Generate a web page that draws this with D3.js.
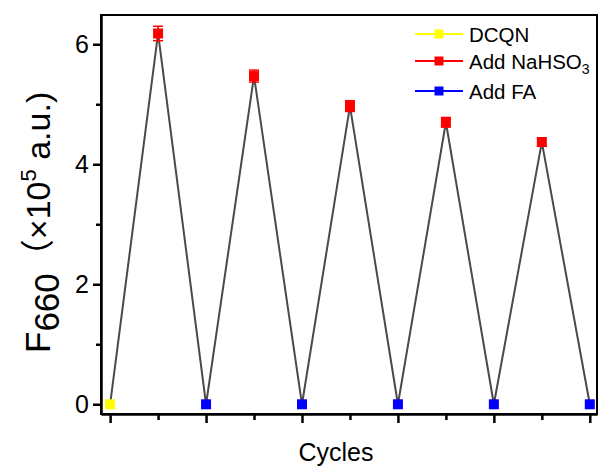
<!DOCTYPE html>
<html><head><meta charset="utf-8">
<script src="https://cdn.jsdelivr.net/npm/d3@7"></script>
<style>
html,body{margin:0;padding:0;background:#fff;}
svg{display:block;font-family:"Liberation Sans",Arial,sans-serif;}
</style></head>
<body>
<svg id="chart" width="599" height="468"></svg>
<script>
// ---- data ----
const cycleIndex = [0,1,2,3,4,5,6,7,8,9,10];
const f660 = [0, 6.18, 0, 5.47, 0, 4.97, 0, 4.70, 0, 4.37, 0];
const f660Err = [0, 0.12, 0, 0.10, 0, 0.09, 0, 0.08, 0, 0.07, 0];
const pointState = ["DCQN","Add NaHSO3","Add FA","Add NaHSO3","Add FA","Add NaHSO3","Add FA","Add NaHSO3","Add FA","Add NaHSO3","Add FA"];
const legendLabels = ["DCQN","Add NaHSO3","Add FA"];
const legendColors = ["#ffff00","#ff0000","#0000ff"];
const yMajorTicks = [0,2,4,6];
const yMinorTicks = [1,3,5];
const xMajorTicks = [0,2,4,6,8,10];
const xMinorTicks = [1,3,5,7,9];

(function(){
const svg = d3.select("#chart");
const pL = 101, pR = 597, pT = 15, pB = 414;
const x = d3.scaleLinear().domain([-0.19, 10.15]).range([pL, pR]);
const y = d3.scaleLinear().domain([-0.162, 6.488]).range([pB, pT]);
const color = d3.scaleOrdinal().domain(legendLabels).range(legendColors);

// frame
svg.append("rect").attr("x", pL).attr("y", pT).attr("width", pR-pL).attr("height", pB-pT)
  .attr("fill","none").attr("stroke","#000").attr("stroke-width",2);

// y axis
const yAxis = svg.append("g").attr("transform",`translate(${pL},0)`)
  .call(d3.axisLeft(y).tickValues(yMajorTicks).tickSize(8).tickSizeOuter(0).tickFormat(d3.format("d")));
yAxis.select(".domain").attr("stroke-width",2.5);
yAxis.selectAll(".tick line").attr("stroke-width",2.5);
yAxis.selectAll(".tick text").attr("font-size",25).attr("font-family","Liberation Sans, Arial, sans-serif").attr("fill","#000").attr("x",-12);
const yMinor = svg.append("g").attr("transform",`translate(${pL},0)`)
  .call(d3.axisLeft(y).tickValues(yMinorTicks).tickSize(5).tickSizeOuter(0).tickFormat(""));
yMinor.select(".domain").remove();
yMinor.selectAll(".tick line").attr("stroke-width",2.5);

// x axis
const xAxis = svg.append("g").attr("transform",`translate(0,${pB})`)
  .call(d3.axisBottom(x).tickValues(xMajorTicks).tickSize(9).tickSizeOuter(0).tickFormat(""));
xAxis.select(".domain").attr("stroke-width",2.5);
xAxis.selectAll(".tick line").attr("stroke-width",2.5);
const xMinor = svg.append("g").attr("transform",`translate(0,${pB})`)
  .call(d3.axisBottom(x).tickValues(xMinorTicks).tickSize(6).tickSizeOuter(0).tickFormat(""));
xMinor.select(".domain").remove();
xMinor.selectAll(".tick line").attr("stroke-width",2.5);

// line
const pts = cycleIndex.map((c,i)=>({c, v:f660[i], e:f660Err[i], s:pointState[i]}));
svg.append("path").datum(pts)
  .attr("d", d3.line().x(d=>x(d.c)).y(d=>y(d.v)))
  .attr("fill","none").attr("stroke","#4a4a4a").attr("stroke-width",2);

// error bars
const eb = svg.append("g").selectAll("g").data(pts.filter(d=>d.e>0)).join("g")
  .attr("stroke", d=>color(d.s)).attr("stroke-width",1.5);
eb.append("line").attr("x1",d=>x(d.c)).attr("x2",d=>x(d.c)).attr("y1",d=>y(d.v+d.e)).attr("y2",d=>y(d.v-d.e));
eb.append("line").attr("x1",d=>x(d.c)-5).attr("x2",d=>x(d.c)+5).attr("y1",d=>y(d.v+d.e)).attr("y2",d=>y(d.v+d.e));
eb.append("line").attr("x1",d=>x(d.c)-5).attr("x2",d=>x(d.c)+5).attr("y1",d=>y(d.v-d.e)).attr("y2",d=>y(d.v-d.e));

// markers
const ms = 10;
svg.append("g").selectAll("rect").data(pts).join("rect")
  .attr("x", d=>x(d.c)-ms/2).attr("y", d=>y(d.v)-ms/2).attr("width",ms).attr("height",ms)
  .attr("fill", d=>color(d.s));

// legend
const lg = svg.append("g");
const rowsY = [34, 61, 91];
legendLabels.forEach((lab,i)=>{
  const g = lg.append("g").attr("transform",`translate(0,${rowsY[i]})`);
  g.append("line").attr("x1",415).attr("x2",463).attr("y1",0).attr("y2",0).attr("stroke",legendColors[i]).attr("stroke-width",2);
  g.append("rect").attr("x",439-4.5).attr("y",-4.5).attr("width",9).attr("height",9).attr("fill",legendColors[i]);
  const t = g.append("text").attr("x",469).attr("y",7.5).attr("font-size",20.5).attr("fill","#000");
  if (lab === "Add NaHSO3") {
    t.append("tspan").text("Add NaHSO");
    t.append("tspan").attr("font-size",14).attr("dy",5).text("3");
  } else t.text(lab);
});

// axis titles
svg.append("text").attr("x",336).attr("y",461).attr("text-anchor","middle").attr("font-size",25).attr("fill","#000").text("Cycles");

const yt = svg.append("text").attr("transform","translate(50,353) rotate(-90)").attr("font-size",35).attr("fill","#000");
yt.append("tspan").text("F");
yt.append("tspan").attr("dy",9).text("660");
yt.append("tspan").attr("dy",-9).attr("font-size",34).attr("font-family","Noto Sans CJK SC, sans-serif").text("（");
yt.append("tspan").attr("font-size",34).text("×10");
yt.append("tspan").attr("font-size",22).attr("dy",-14).text("5");
yt.append("tspan").attr("font-size",34).attr("dy",14).text(" a.u.)");
})();
</script>
</body></html>
